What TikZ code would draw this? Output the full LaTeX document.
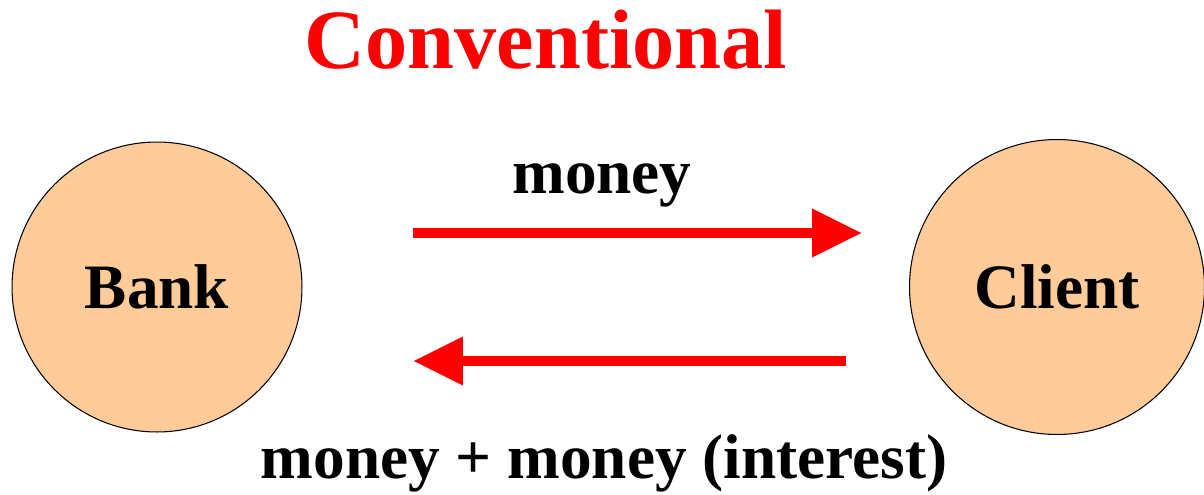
\documentclass[tikz,border=0pt]{standalone}
\usepackage{fontspec}
\setmainfont{Liberation Serif}
\usetikzlibrary{arrows.meta}
\definecolor{peach}{HTML}{FFCC99}

\begin{document}
\begin{tikzpicture}[x=0.02cm,y=-0.02cm,every node/.style={font=\bfseries\fontsize{36}{40}\selectfont},
  party/.style={circle,draw=black,line width=0.6pt,fill=peach,inner sep=0pt},
  flow/.style={red,line width=0.2cm,-{Triangle[length=1cm,width=0.92cm]}}]
\useasboundingbox (0,0) rectangle (1204,494);
% title
\node[text=red,font=\bfseries\fontsize{48}{52}\selectfont] (title) at (546,40) {Conventional};
% the two parties
\node[party,minimum size=5.8cm] (bank) at (157,287) {Bank};
\node[party,minimum size=5.9cm] (client) at (1057,287) {Client};
% arrow ends
\coordinate (topL) at (413,233);
\coordinate (topR) at (862,233);
\coordinate (botR) at (846,361);
\coordinate (botL) at (413,361);
\draw[flow] (topL) -- (topR);
\draw[flow] (botR) -- (botL);
% labels
\node (lend) at (602,185) {money};
\node (repay) at (604,463) {money + money (interest)};
\end{tikzpicture}
\end{document}
